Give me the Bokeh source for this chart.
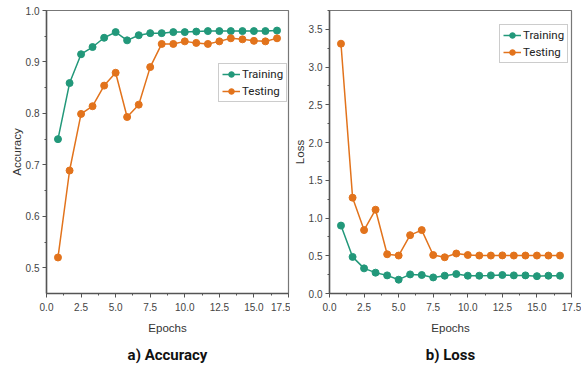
from bokeh.plotting import figure
from bokeh.layouts import row
from bokeh.models import FixedTicker, Legend, LegendItem, Title, Range1d, NumeralTickFormatter
from bokeh.embed import file_html
from bokeh.resources import INLINE

epochs = [0.83, 1.67, 2.5, 3.33, 4.17, 5.0, 5.83, 6.67, 7.5, 8.33,
          9.17, 10.0, 10.83, 11.67, 12.5, 13.33, 14.17, 15.0, 15.83, 16.67]
train_acc = [0.750, 0.859, 0.915, 0.929, 0.947, 0.958, 0.942, 0.952, 0.956, 0.956,
             0.958, 0.958, 0.959, 0.960, 0.960, 0.960, 0.960, 0.960, 0.960, 0.961]
test_acc = [0.520, 0.689, 0.799, 0.814, 0.854, 0.879, 0.793, 0.817, 0.890, 0.935,
            0.935, 0.940, 0.937, 0.935, 0.940, 0.946, 0.944, 0.941, 0.940, 0.946]
train_loss = [0.90, 0.485, 0.333, 0.276, 0.24, 0.183, 0.253, 0.245, 0.213, 0.236,
              0.258, 0.236, 0.236, 0.24, 0.245, 0.24, 0.24, 0.23, 0.236, 0.236]
test_loss = [3.31, 1.27, 0.84, 1.11, 0.52, 0.503, 0.773, 0.84, 0.51, 0.48,
             0.53, 0.51, 0.503, 0.503, 0.505, 0.503, 0.503, 0.503, 0.503, 0.503]
x_ticks = [0, 2.5, 5, 7.5, 10, 12.5, 15, 17.5]
acc_ticks = [0.5, 0.6, 0.7, 0.8, 0.9, 1.0]
loss_ticks = [0.0, 0.5, 1.0, 1.5, 2.0, 2.5, 3.0, 3.5]

GREEN = "#22987a"
ORANGE = "#e2731c"
AXC = "#555555"
FONT = "Liberation Sans"
NARROW = "Roboto"


def make(width, ylab, yr, yticks, ys, caption, bl, br, leg_loc, cap_off):
    p = figure(width=width, height=371, output_backend="svg", toolbar_location=None,
               x_range=Range1d(0, 17.5), y_range=Range1d(*yr),
               min_border_left=bl, min_border_right=br, min_border_top=10,
               min_border_bottom=12)
    p.grid.visible = False
    p.outline_line_color = "#777777"
    p.outline_line_width = 1.2
    p.xaxis.ticker = FixedTicker(ticks=x_ticks,
                                 minor_ticks=[t + 1.25 for t in x_ticks])
    p.xaxis.formatter = NumeralTickFormatter(format="0.0")
    p.yaxis.ticker = FixedTicker(ticks=yticks,
                                 minor_ticks=[t + (yticks[1] - yticks[0]) / 2 for t in yticks])
    p.yaxis.formatter = NumeralTickFormatter(format="0.0")
    for ax in (p.xaxis, p.yaxis):
        ax.axis_line_color = AXC
        ax.axis_line_width = 1.5
        ax.major_tick_line_color = AXC
        ax.minor_tick_line_color = AXC
        ax.major_tick_out = 4
        ax.major_tick_in = 0
        ax.minor_tick_out = 2
        ax.minor_tick_in = 0
        ax.major_label_text_font = FONT
        ax.major_label_text_font_size = "10px"
        ax.major_label_text_color = "#444444"
        ax.axis_label_text_font = FONT
        ax.axis_label_text_font_style = "normal"
        ax.axis_label_text_font_size = "11.5px"
        ax.axis_label_text_color = "#333333"
    p.xaxis.axis_label = "Epochs"
    p.xaxis.axis_label_standoff = 8
    p.yaxis.axis_label = ylab
    p.yaxis.axis_label_standoff = 0
    p.yaxis.major_label_standoff = 3
    rends = []
    for y, c in zip(ys, (GREEN, ORANGE)):
        l = p.line(epochs, y, line_color=c, line_width=1.5)
        s = p.scatter(epochs, y, size=7, fill_color=c, line_color=c)
        rends.append([l, s])
    leg = Legend(items=[LegendItem(label="Training", renderers=rends[0]),
                        LegendItem(label="Testing", renderers=rends[1])],
                 location=leg_loc, label_text_font=NARROW,
                 label_text_font_size="11.5px", label_text_color="#222222",
                 border_line_color="#999999", glyph_width=18, glyph_height=14,
                 label_height=14, spacing=3, padding=3, margin=0,
                 label_standoff=2, background_fill_alpha=1)
    p.add_layout(leg)
    t = Title(text=caption, align="center", text_font=NARROW,
              text_font_style="bold", text_font_size="15px", text_color="#111111",
              standoff=15, offset=cap_off)
    p.add_layout(t, "below")
    return p


p1 = make(290, "Accuracy", (0.45, 1.0), acc_ticks, [train_acc, test_acc],
          "a) Accuracy", 46, 2, (172, 191), 23)
p2 = make(291, "Loss", (0.0, 3.75), loss_ticks, [train_loss, test_loss],
          "b) Loss", 37, 10, (170, 230), 18)
layout = row(p1, p2)
open("out.html", "w").write(file_html(layout, INLINE))
